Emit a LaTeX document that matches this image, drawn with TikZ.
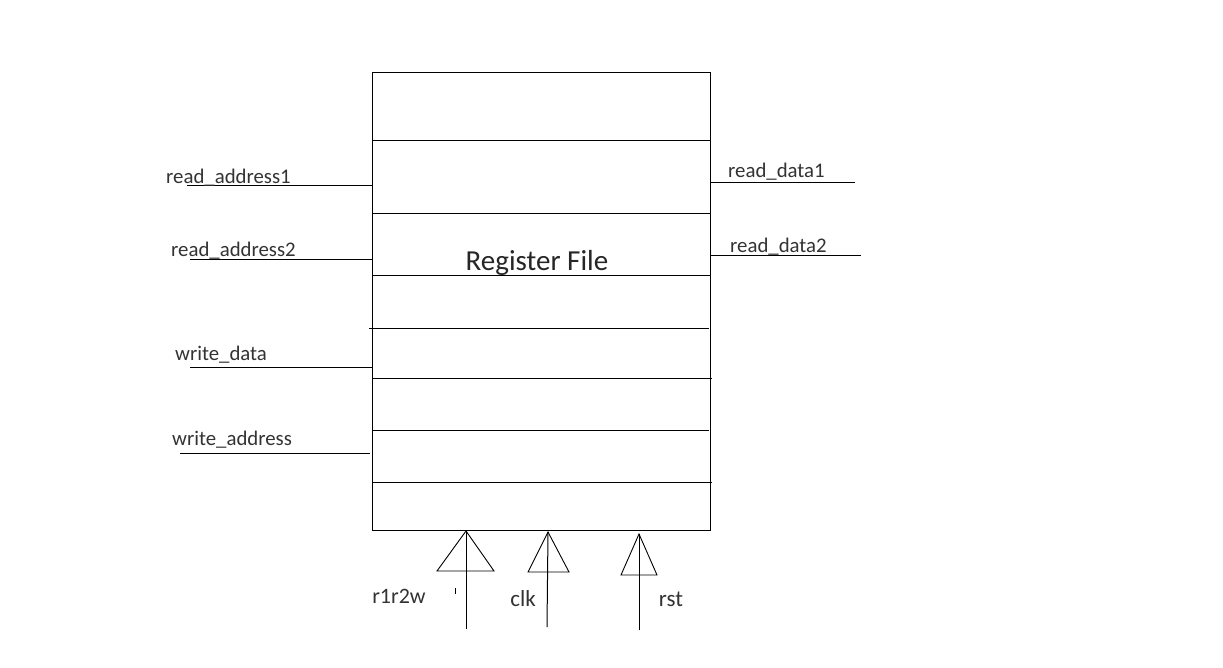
\documentclass[tikz,border=0pt]{standalone}
\usepackage{fontspec}
\setmainfont{Carlito}
\begin{document}
\begin{tikzpicture}[x=1pt,y=-1pt,
  wire/.style={line width=1pt,color=black},
  lbl/.style={inner sep=0pt,font=\fontsize{20.8}{24}\selectfont,text=black!80,anchor=west},
  blbl/.style={inner sep=0pt,font=\fontsize{23}{27}\selectfont,text=black!80},
  tri/.style={line width=0.9pt}]
\useasboundingbox[fill=white] (0,0) rectangle (1223,668);
% register file box
\node[draw,line width=1.1pt,minimum width=338pt,minimum height=458pt,inner sep=0pt,anchor=north west] (rf) at (372,72) {};
\node[inner sep=0pt,font=\fontsize{29}{33}\selectfont,text=black!85] (title) at (537,263) {Register File};
% row separators
\coordinate (s1l) at (372,141); \coordinate (s1r) at (710,141);
\coordinate (s2l) at (372,214); \coordinate (s2r) at (710,214);
\coordinate (s3l) at (372,276); \coordinate (s3r) at (710,276);
\coordinate (s4l) at (369,328); \coordinate (s4r) at (709,328);
\coordinate (s5l) at (372,378); \coordinate (s5r) at (712,378);
\coordinate (s6l) at (372,430); \coordinate (s6r) at (709,430);
\coordinate (s7l) at (372,482); \coordinate (s7r) at (712,482);
\foreach \i in {1,...,7} {\draw[wire] (s\i l) -- (s\i r);}
% inputs
\coordinate (ra1) at (187,186); \coordinate (ra1e) at (372,186);
\coordinate (ra2) at (190,260); \coordinate (ra2e) at (372,260);
\coordinate (wd) at (190,367); \coordinate (wde) at (372,367);
\coordinate (wa) at (180,453); \coordinate (wae) at (370,453);
\draw[wire] (ra1) -- (ra1e);
\draw[wire] (ra2) -- (ra2e);
\draw[wire] (wd) -- (wde);
\draw[wire] (wa) -- (wae);
\node[lbl] (lra1) at (166,178) {read\_address1};
\node[lbl] (lra2) at (171,251) {read\_address2};
\node[lbl] (lwd) at (175,355) {write\_data};
\node[lbl] (lwa) at (172,440) {write\_address};
% outputs
\coordinate (rd1s) at (710,183); \coordinate (rd1) at (855,183);
\coordinate (rd2s) at (710,256); \coordinate (rd2) at (861,256);
\draw[wire] (rd1s) -- (rd1);
\draw[wire] (rd2s) -- (rd2);
\node[lbl] (lrd1) at (728,172) {read\_data1};
\node[lbl] (lrd2) at (730,247) {read\_data2};
% bottom control inputs
\coordinate (a1) at (466,531); \coordinate (b1) at (466,629);
\coordinate (a2) at (548,532); \coordinate (b2) at (547,627);
\coordinate (a3) at (639,534); \coordinate (b3) at (639,630);
\draw[tri] (a1) -- (437,571) -- (494,571) -- cycle;
\draw[tri] (a2) -- (528,572) -- (569,572) -- cycle;
\draw[tri] (a3) -- (621,575) -- (657,575) -- cycle;
\draw[wire] (b1) -- (a1);
\draw[wire] (b2) -- (a2);
\draw[wire] (b3) -- (a3);
\coordinate (t1) at (455.5,588); \coordinate (t2) at (455.5,594);
\draw[line width=0.8pt] (t1) -- (t2);
\node[blbl,font=\fontsize{22}{26}\selectfont] (lr) at (399,596) {r1r2w};
\node[blbl] (lc) at (523,599) {clk};
\node[blbl] (ls) at (671,599) {rst};
\end{tikzpicture}
\end{document}
